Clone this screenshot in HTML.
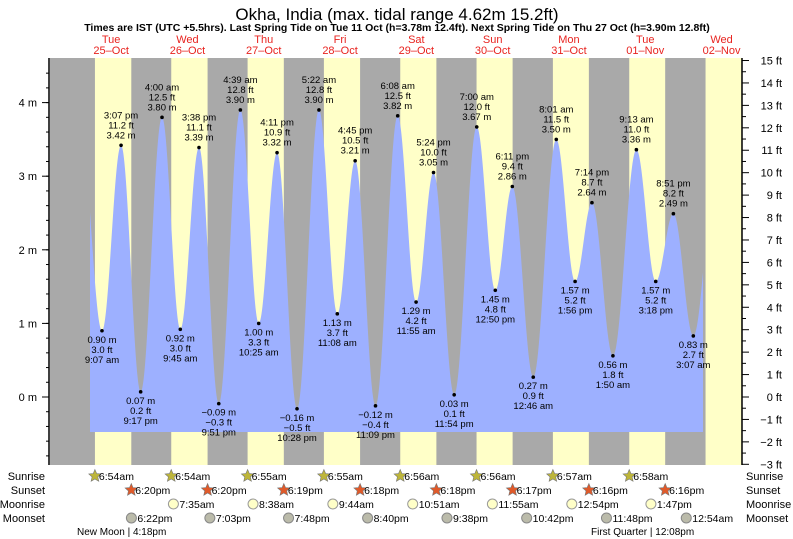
<!DOCTYPE html>
<html><head><meta charset="utf-8"><style>
body{margin:0;background:#fff;}
svg{display:block;font-family:"Liberation Sans",sans-serif;}
</style></head><body>
<svg id="chart" width="793" height="539" xmlns="http://www.w3.org/2000/svg">
<text x="397" y="20" font-size="17" text-anchor="middle">Okha, India (max. tidal range 4.62m 15.2ft)</text>
<text x="397" y="31" font-size="10.5" font-weight="bold" text-anchor="middle">Times are IST (UTC +5.5hrs). Last Spring Tide on Tue 11 Oct (h=3.78m 12.4ft). Next Spring Tide on Thu 27 Oct (h=3.90m 12.8ft)</text>
<g id="bg"></g><g id="tide"></g><g id="axes"></g><g id="labels"></g><g id="bottom"></g>
</svg>
<script>
const tideTimes=["25 02:30","25 09:07","25 15:07","25 21:17","26 04:00","26 09:45","26 15:38","26 21:51","27 04:39","27 10:25","27 16:11","27 22:28","28 05:22","28 11:08","28 16:45","28 23:09","29 06:08","29 11:55","29 17:24","29 23:54","30 07:00","30 12:50","30 18:11","31 00:46","31 08:01","31 13:56","31 19:14","32 01:50","32 09:13","32 15:18","32 20:51","33 03:07","33 10:30"];
const tideHeights=[3.55,0.90,3.42,0.07,3.80,0.92,3.39,-0.09,3.90,1.00,3.32,-0.16,3.90,1.13,3.21,-0.12,3.82,1.29,3.05,0.03,3.67,1.45,2.86,0.27,3.50,1.57,2.64,0.56,3.36,1.57,2.49,0.83,3.2];
const dayNames=["Tue","Wed","Thu","Fri","Sat","Sun","Mon","Tue","Wed"];
const dayDates=["25–Oct","26–Oct","27–Oct","28–Oct","29–Oct","30–Oct","31–Oct","01–Nov","02–Nov"];
const sunrise=["6:54am","6:54am","6:55am","6:55am","6:56am","6:56am","6:57am","6:58am","6:58am"];
const sunset=["6:20pm","6:20pm","6:19pm","6:18pm","6:18pm","6:17pm","6:16pm","6:16pm","6:15pm"];
const moonrise=["26 07:35","27 08:38","28 09:44","29 10:51","30 11:55","31 12:54","32 13:47"];
const moonset=["25 18:22","26 19:03","27 19:48","28 20:40","29 21:38","30 22:42","31 23:48","33 00:54"];
const mTicks=[0,1,2,3,4];
const ftTicks=[-3,-2,-1,0,1,2,3,4,5,6,7,8,9,10,11,12,13,14,15];

const NS="http://www.w3.org/2000/svg";
const X0=50,X1=742,Y0=58,Y1=465,MID=73,PPD=76.3;
const xT=t=>MID+t*PPD/24; // t hours from Oct25 00:00
const yM=m=>397-m*73.6;
const yF=f=>yM(f/3.281);
function hrs(s){const[d,hm]=s.split(" ");const[h,m]=hm.split(":");return(+d-25)*24+(+h)+(+m)/60;}
function parse12(s){const pm=s.endsWith("pm");const[h,m]=s.slice(0,-2).split(":");let H=(+h)%12+(pm?12:0);return H+(+m)/60;}
function fmt(t,sp){const h=((t%24)+24)%24;let H=Math.floor(h+1e-6);let M=Math.round((h-H)*60);if(M==60){M=0;H++;}const ap=H>=12?"pm":"am";let h12=H%12;if(h12==0)h12=12;return h12+":"+String(M).padStart(2,"0")+(sp?" ":"")+ap;}
function el(tag,a,p,txt){const e=document.createElementNS(NS,tag);for(const k in a)e.setAttribute(k,a[k]);if(txt!==undefined)e.textContent=txt;p.appendChild(e);return e;}
const neg=v=>v.replace("-","−");
const bg=document.getElementById("bg"),tide=document.getElementById("tide"),axes=document.getElementById("axes"),labels=document.getElementById("labels"),bottom=document.getElementById("bottom");

let r=el("rect",{x:X0,y:Y0,width:X1-X0,height:Y1-Y0,fill:"#a9a9a9"},bg);


for(let d=0;d<9;d++){
  const a=xT(d*24+parse12(sunrise[d])),b=Math.min(X1,xT(d*24+parse12(sunset[d])));
  const y=el("rect",{x:a,y:Y0,width:b-a,height:Y1-Y0,fill:"#ffffc8"},bg);
  
  
  const cx=xT(d*24+12);
  const t1=el("text",{x:cx,y:43,"font-size":11,fill:"#e8231f","text-anchor":"middle"},bg,dayNames[d]);
  
  
  const t2=el("text",{x:cx,y:54,"font-size":11,fill:"#e8231f","text-anchor":"middle"},bg,dayDates[d]);
  
  
}
// tide curve
const T=tideTimes.map(hrs);
function hAt(t){for(let i=0;i<T.length-1;i++){if(t>=T[i]&&t<=T[i+1]){const f=(t-T[i])/(T[i+1]-T[i]);return tideHeights[i]+(tideHeights[i+1]-tideHeights[i])*(1-Math.cos(Math.PI*f))/2;}}return tideHeights[0];}
const xa=90,xb=703,yb=432;let pts=[xa+","+yb];
for(let x=xa;x<=xb;x+=0.5){const t=(x-MID)*24/PPD;pts.push(x+","+yM(hAt(t)).toFixed(1));}
pts.push(xb+","+yb);
const poly=el("polygon",{points:pts.join(" "),fill:"#9db0ff"},tide);


// labels
for(let i=1;i<T.length-1;i++){
  const x=xT(T[i]),y=yM(tideHeights[i]),hi=tideHeights[i]>tideHeights[i-1];
  const dot=el("circle",{cx:x,cy:y,r:1.8,fill:"#000"},labels);
  
  
  const m=neg(tideHeights[i].toFixed(2))+" m",f=neg((tideHeights[i]*3.281).toFixed(1))+" ft",tm=fmt(T[i],true);
  const lines=hi?[tm,f,m]:[m,f,tm];
  const g=el("text",{"font-size":9.5,"text-anchor":"middle"},labels);
  
  
  lines.forEach((s,k)=>{const yy=hi?y-27+k*10:y+12+k*10;el("tspan",{x:x,y:yy},g,s);});
}
// axes
el("line",{x1:X0-1,y1:Y0,x2:X0-1,y2:Y1,stroke:"#000","stroke-width":1.5},axes);
el("line",{x1:X1,y1:Y0,x2:X1,y2:Y1,stroke:"#000","stroke-width":1.5},axes);
for(let m=-0.8;m<=4.6;m+=0.2){const y=yM(m);el("line",{x1:X0-4,y1:y,x2:X0-1,y2:y,stroke:"#000"},axes);}
mTicks.forEach(m=>{const y=yM(m);el("line",{x1:X0-8,y1:y,x2:X0-1,y2:y,stroke:"#000"},axes);
  const t=el("text",{x:X0-13,y:y+4,"font-size":11,"text-anchor":"end"},axes,m+" m");
  
  });
ftTicks.forEach(f=>{const y=yF(f);el("line",{x1:X1,y1:y,x2:X1+7,y2:y,stroke:"#000"},axes);
  if(f<15)el("line",{x1:X1,y1:yF(f+0.5),x2:X1+4,y2:yF(f+0.5),stroke:"#000"},axes);
  const t=el("text",{x:X1+40,y:y+4,"font-size":11,"text-anchor":"end"},axes,neg(String(f))+" ft");
  
  });
// bottom rows
const rows=[["Sunrise",480],["Sunset",494],["Moonrise",508],["Moonset",522]];
rows.forEach(([n,y])=>{const a=el("text",{x:45,y:y,"font-size":11,"text-anchor":"end"},bottom,n);
  
  const b=el("text",{x:746,y:y,"font-size":11},bottom,n);
  });
function star(cx,cy,fill){let p=[];for(let k=0;k<10;k++){const rr=k%2?3:6.5,a=-Math.PI/2+k*Math.PI/5;p.push((cx+rr*Math.cos(a)).toFixed(1)+","+(cy+rr*Math.sin(a)).toFixed(1));}return el("polygon",{points:p.join(" "),fill:fill,stroke:"#777","stroke-width":0.6},bottom);}
for(let d=0;d<8;d++){
  let x=xT(d*24+parse12(sunrise[d]));
  const s=star(x,476,"#bdb53a");
  const t=el("text",{x:x+4,y:480,"font-size":10.5},bottom,sunrise[d]);
  x=xT(d*24+parse12(sunset[d]));
  const s2=star(x,490,"#e05a2a");
  const t2=el("text",{x:x+4,y:494,"font-size":10.5},bottom,sunset[d]);
}
moonrise.forEach(s=>{const t=hrs(s),x=xT(t);const c=el("circle",{cx:x,cy:504,r:5,fill:"#ffffc8",stroke:"#999"},bottom);
  
  const tx=el("text",{x:x+6,y:508,"font-size":10.5},bottom,fmt(t,false));});
moonset.forEach(s=>{const t=hrs(s),x=xT(t);const c=el("circle",{cx:x,cy:518,r:5,fill:"#bbbbaa",stroke:"#888"},bottom);
  
  const tx=el("text",{x:x+6,y:522,"font-size":10.5},bottom,fmt(t,false));});
const n1=el("text",{x:77,y:535,"font-size":10},bottom,"New Moon | 4:18pm");
const n2=el("text",{x:591,y:535,"font-size":10},bottom,"First Quarter | 12:08pm");
</script>
</body></html>
